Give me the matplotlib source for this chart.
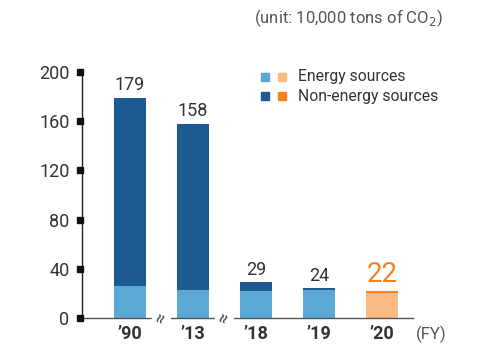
import matplotlib.pyplot as plt
import numpy as np

# CO2 emissions by fiscal year (unit: 10,000 tons)
years = ["\u201990", "\u201913", "\u201918", "\u201919", "\u201920"]
energy = [26, 23, 22, 22.5, 20]
non_energy = [153, 135, 7, 1.5, 2]
totals = [179, 158, 29, 24, 22]
y_ticks = [0, 40, 80, 120, 160, 200]

BLUE_LIGHT = "#5ba8d4"
BLUE_DARK = "#1d5a92"
ORANGE_LIGHT = "#f9bb82"
ORANGE = "#f5821f"
TEXT = "#333333"

plt.rcParams['font.family'] = ['Roboto', 'DejaVu Sans']

fig = plt.figure(figsize=(4.78, 3.46), dpi=100)
ax = fig.add_axes([82 / 478, 28 / 346, 331 / 478, 246 / 346])

x = np.arange(len(years))
c_low = [BLUE_LIGHT] * 4 + [ORANGE_LIGHT]
c_high = [BLUE_DARK] * 4 + [ORANGE]
ax.bar(x, energy, width=0.51, color=c_low, zorder=2)
ax.bar(x, non_energy, bottom=energy, width=0.51, color=c_high, zorder=2)

for i, t in enumerate(totals):
    if i == len(totals) - 1:
        ax.text(i, t + 2, str(t), ha="center", va="bottom", fontsize=20, color=ORANGE)
    else:
        ax.text(i, t + 3, str(t), ha="center", va="bottom", fontsize=13, color=TEXT)

ax.set_xlim(-0.762, 4.49)
ax.set_ylim(0, 200)
for s in ["top", "right"]:
    ax.spines[s].set_visible(False)
ax.spines["left"].set_color("#222222")
ax.spines["left"].set_linewidth(1.0)
ax.spines["bottom"].set_color("#555555")
ax.spines["bottom"].set_linewidth(1.0)

# y ticks as small black squares
ax.set_yticks(y_ticks)
ax.tick_params(axis="y", length=0, pad=9, labelsize=13, labelcolor=TEXT)
ax.plot([-0.006] * len(y_ticks), y_ticks, "s", color="#111111", markersize=4.5,
        transform=ax.get_yaxis_transform(), clip_on=False, zorder=5)

ax.set_xticks(x)
ax.set_xticklabels(years, fontsize=13, fontweight="bold", color=TEXT)
ax.tick_params(axis="x", length=0, pad=5)
ax.text(4.78, -6, "(FY)", ha="center", va="top", fontsize=12, color="#555555",
        clip_on=False)

# axis break marks
for bx in [0.5, 1.5]:
    ax.text(bx, 0, "\u2248", rotation=70, ha="center", va="center", fontsize=13,
            color="#444444", zorder=6,
            bbox=dict(boxstyle="square,pad=0.0", fc="white", ec="none"))

# legend
sq = 7.5
for row, (lbl, c1, c2) in enumerate([("Energy sources", BLUE_LIGHT, ORANGE_LIGHT),
                                      ("Non-energy sources", BLUE_DARK, ORANGE)]):
    y = 346 - (77 + row * 19)
    fig.patches.append(plt.Rectangle(((265 - sq / 2) / 478, (y - sq / 2) / 346), sq / 478,
                                     sq / 346, transform=fig.transFigure, color=c1))
    fig.patches.append(plt.Rectangle(((282 - sq / 2) / 478, (y - sq / 2) / 346), sq / 478,
                                     sq / 346, transform=fig.transFigure, color=c2))
    fig.text(298 / 478, y / 346, lbl, ha="left", va="center", fontsize=11.3, color=TEXT)

fig.text(443 / 478, 328 / 346, "(unit: 10,000 tons of CO$_2$)", ha="right", va="center",
         fontsize=12, color="#555555")

fig.savefig("out.png", dpi=100)
